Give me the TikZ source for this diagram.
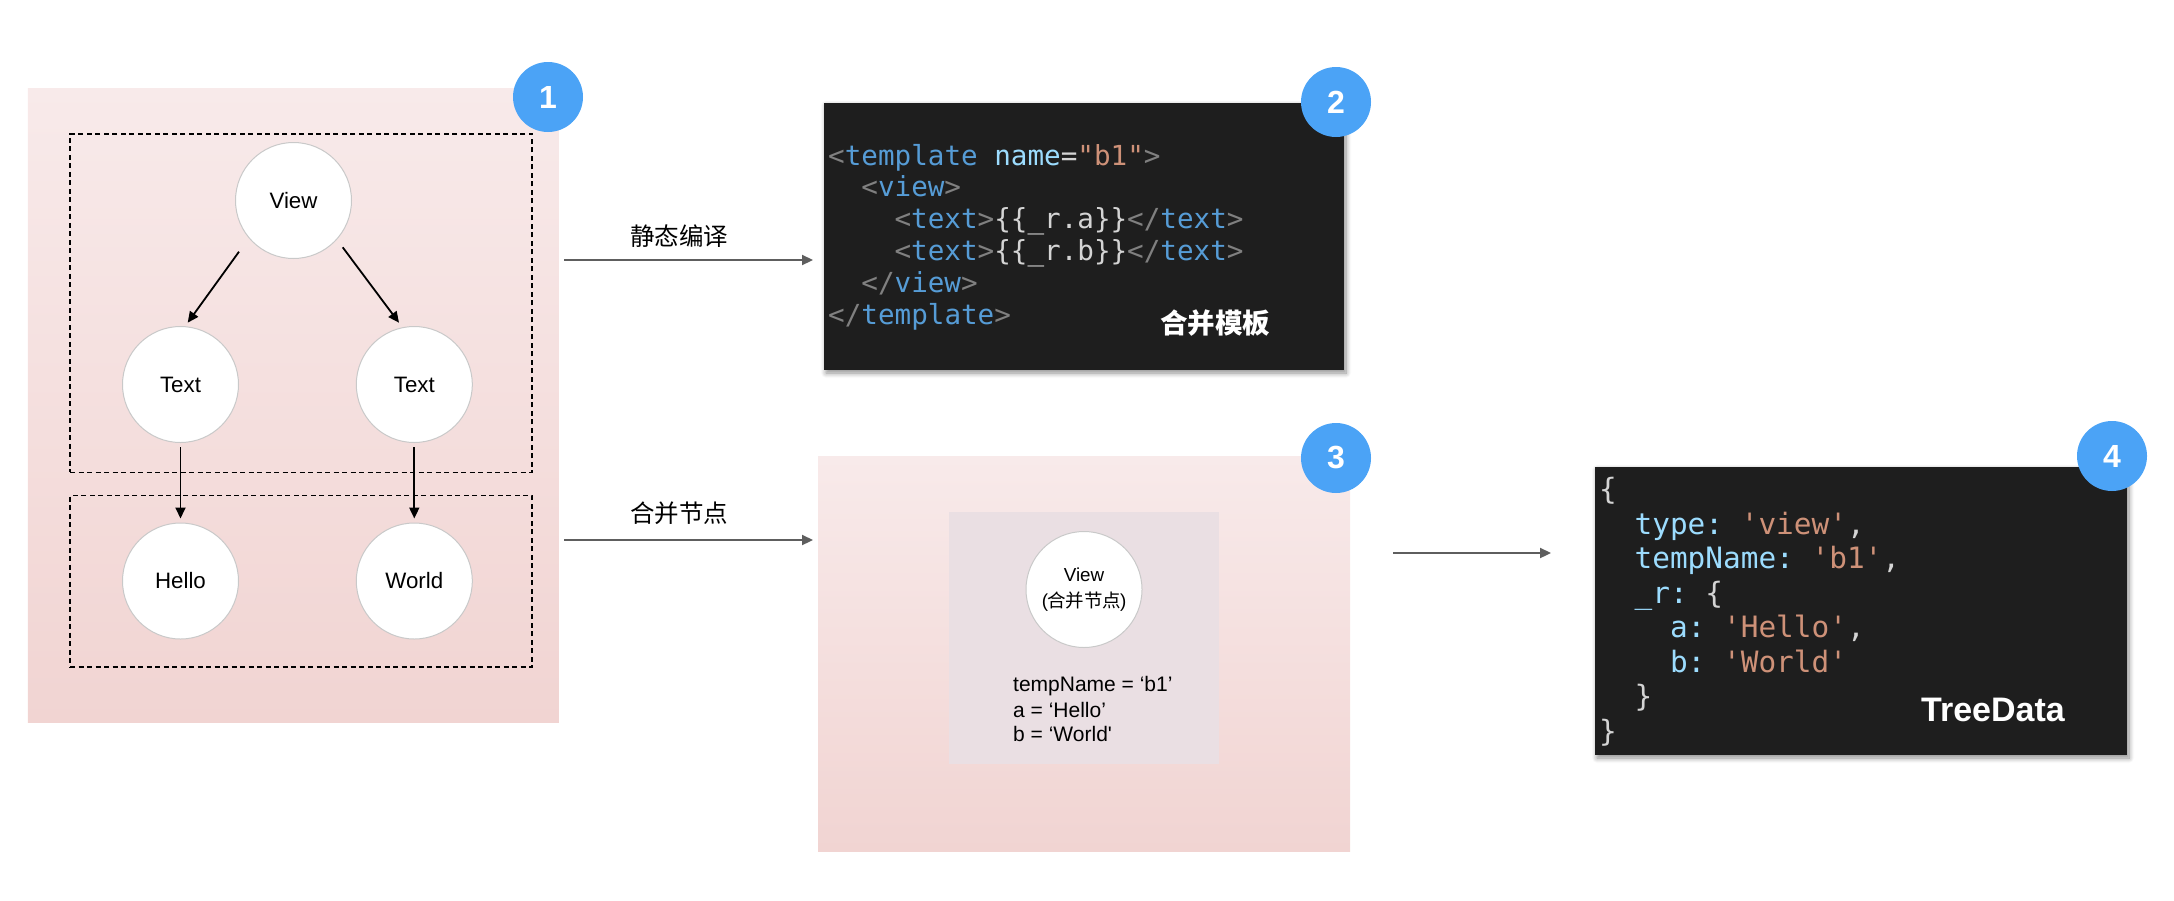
\documentclass[tikz,border=0pt]{standalone}
\usepackage{fontspec}
\setmainfont{Liberation Sans}
\setmonofont{DejaVu Sans Mono}
\newfontfamily\cjk{Noto Sans CJK SC}
\usetikzlibrary{arrows.meta,shadows.blur}
\definecolor{pinkT}{HTML}{F8EAEA}
\definecolor{pinkB}{HTML}{F1D4D2}
\definecolor{codebg}{HTML}{1E1E1E}
\definecolor{cpunct}{HTML}{808080}
\definecolor{ctag}{HTML}{569CD6}
\definecolor{cattr}{HTML}{9CDCFE}
\definecolor{cstr}{HTML}{CE9178}
\definecolor{cdef}{HTML}{D4D4D4}
\definecolor{badgeblue}{HTML}{4BA3F6}
\definecolor{garrow}{HTML}{5E5E5E}
\definecolor{innerbox}{HTML}{EADFE3}
\definecolor{circleline}{HTML}{C9C9C9}
\newcommand\sq{\XeTeXglyph\XeTeXcharglyph"27\relax}
\newcommand\dq{\XeTeXglyph\XeTeXcharglyph"22\relax}
\tikzset{
  pinkbox/.style={rectangle, top color=pinkT, bottom color=pinkB, draw=none, inner sep=0pt},
  codebox/.style={rectangle, fill=codebg, inner sep=0pt,
    blur shadow={shadow xshift=2pt, shadow yshift=-3pt, shadow blur radius=5pt,
      shadow blur steps=8, shadow opacity=45}},
  tnode/.style={circle, draw=circleline, line width=1pt, fill=white, minimum size=116pt,
    inner sep=0pt, font=\fontsize{22.3}{26}\selectfont},
  badgenode/.style={circle, fill=badgeblue, minimum size=70pt, inner sep=0pt, text=white,
    font=\fontsize{32}{32}\selectfont\bfseries},
  dashbox/.style={rectangle, draw=black, dash pattern=on 5pt off 3.5pt, line width=1.7pt, inner sep=0pt},
  treearr/.style={-{Triangle[length=11pt,width=10pt]}, line width=1.8pt, black},
  grayarr/.style={-{Triangle[length=11pt,width=10pt]}, line width=2.2pt, garrow},
  arrlabel/.style={font=\cjk\fontsize{24.5}{28}\selectfont, inner sep=0pt},
  codeA/.style={anchor=base west, inner sep=0pt, font=\ttfamily\fontsize{27.6}{31.8}\selectfont},
  codeB/.style={anchor=base west, inner sep=0pt, font=\ttfamily\fontsize{29.4}{34.5}\selectfont},
  plaintext/.style={anchor=base west, inner sep=0pt, font=\fontsize{21}{25.5}\selectfont},
}
\begin{document}
\begin{tikzpicture}[x=1pt,y=-1pt]
\useasboundingbox (0,0) rectangle (2174,900);

% ---------- panel 1 ----------
\node[pinkbox, minimum width=531pt, minimum height=634pt] (box1) at (293.25,405.5) {};
\node[dashbox, minimum width=462pt, minimum height=338.5pt] (dash1) at (301.1,303.2) {};
\node[dashbox, minimum width=462pt, minimum height=171.5pt] (dash2) at (301.1,581.25) {};

\node[tnode] (view) at (293.5,200.5) {View};
\node[tnode] (tl) at (180.5,384.5) {Text};
\node[tnode] (tr) at (414.3,384.5) {Text};
\node[tnode] (hello) at (180.5,581) {Hello};
\node[tnode] (world) at (414.3,581) {World};

\draw[treearr] ([shift={(-54.5,51.2)}]view.center) -- ([shift={(7.2,-61.8)}]tl.center);
\draw[treearr] ([shift={(49.2,46.8)}]view.center) -- ([shift={(-15.3,-61.8)}]tr.center);
\draw[treearr] ([shift={(0,62.5)}]tl.center) -- ([shift={(0,-62.5)}]hello.center);
\draw[treearr] ([shift={(0,62.5)}]tr.center) -- ([shift={(0,-62.5)}]world.center);

% ---------- arrows between panels ----------
\coordinate (g1s) at (564,260);
\coordinate (g1e) at (813,260);
\coordinate (g2s) at (564,540);
\coordinate (g2e) at (813,540);
\coordinate (g3s) at (1393,553);
\coordinate (g3e) at (1551,553);
\draw[grayarr] (g1s) -- (g1e);
\draw[grayarr] (g2s) -- (g2e);
\draw[grayarr] (g3s) -- (g3e);
\node[arrlabel] (lab1) at (679,236.5) {静态编译};
\node[arrlabel] (lab2) at (679,513) {合并节点};

% ---------- panel 2 ----------
\node[codebox, minimum width=520pt, minimum height=267.5pt] (box2) at (1084,236.25) {};
\node[codeA] (c2a) at (828,165) {\textcolor{cpunct}{<}\textcolor{ctag}{template} \textcolor{cattr}{name}\textcolor{cdef}{=}\textcolor{cstr}{\dq b1\dq}\textcolor{cpunct}{>}};
\node[codeA] (c2b) at (861.2,196.8) {\textcolor{cpunct}{<}\textcolor{ctag}{view}\textcolor{cpunct}{>}};
\node[codeA] (c2c) at (894.4,228.6) {\textcolor{cpunct}{<}\textcolor{ctag}{text}\textcolor{cpunct}{>}\textcolor{cdef}{\{\{\_r.a\}\}}\textcolor{cpunct}{</}\textcolor{ctag}{text}\textcolor{cpunct}{>}};
\node[codeA] (c2d) at (894.4,260.4) {\textcolor{cpunct}{<}\textcolor{ctag}{text}\textcolor{cpunct}{>}\textcolor{cdef}{\{\{\_r.b\}\}}\textcolor{cpunct}{</}\textcolor{ctag}{text}\textcolor{cpunct}{>}};
\node[codeA] (c2e) at (861.2,292.2) {\textcolor{cpunct}{</}\textcolor{ctag}{view}\textcolor{cpunct}{>}};
\node[codeA] (c2f) at (828,324) {\textcolor{cpunct}{</}\textcolor{ctag}{template}\textcolor{cpunct}{>}};
\node[font=\cjk\bfseries\fontsize{27.5}{30}\selectfont, text=white, inner sep=0pt] (t2) at (1215,323) {合并模板};

% ---------- panel 3 ----------
\node[pinkbox, minimum width=532pt, minimum height=395pt] (box3) at (1084,653.5) {};
\node[rectangle, fill=innerbox, minimum width=270pt, minimum height=252pt, inner sep=0pt] (inner) at (1084,638) {};
\node[tnode, align=center, font=\fontsize{18.8}{25.7}\selectfont] (mview) at (1084,589.5) {View\\(\kern-1pt{\cjk\fontsize{18.5}{25.7}\selectfont 合并节点}\kern-1pt)};
\node[plaintext] (p1) at (1013,691.7) {tempName = ‘b1’};
\node[plaintext] (p2) at (1013,717.3) {a = ‘Hello’};
\node[plaintext] (p3) at (1013,741.7) {b = ‘World\sq};

% ---------- panel 4 ----------
\node[codebox, minimum width=532pt, minimum height=288.3pt] (box4) at (1861,610.85) {};
\node[codeB] (c4a) at (1599,499.5) {\textcolor{cdef}{\{}};
\node[codeB] (c4b) at (1634.4,534) {\textcolor{cattr}{type:} \textcolor{cstr}{\sq view\sq}\textcolor{cdef}{,}};
\node[codeB] (c4c) at (1634.4,568.5) {\textcolor{cattr}{tempName:} \textcolor{cstr}{\sq b1\sq}\textcolor{cdef}{,}};
\node[codeB] (c4d) at (1634.4,603) {\textcolor{cattr}{\_r:} \textcolor{cdef}{\{}};
\node[codeB] (c4e) at (1669.8,637.5) {\textcolor{cattr}{a:} \textcolor{cstr}{\sq Hello\sq}\textcolor{cdef}{,}};
\node[codeB] (c4f) at (1669.8,672) {\textcolor{cattr}{b:} \textcolor{cstr}{\sq World\sq}};
\node[codeB] (c4g) at (1634.4,706.5) {\textcolor{cdef}{\}}};
\node[codeB] (c4h) at (1599,741) {\textcolor{cdef}{\}}};
\node[font=\bfseries\fontsize{34}{36}\selectfont, text=white, inner sep=0pt] (t4) at (1993,710.3) {TreeData};

% ---------- badges ----------
\node[badgenode] (b1) at (548,97) {1};
\node[badgenode] (b2) at (1336,102) {2};
\node[badgenode] (b3) at (1336,458) {3};
\node[badgenode] (b4) at (2112,456) {4};
\end{tikzpicture}
\end{document}
